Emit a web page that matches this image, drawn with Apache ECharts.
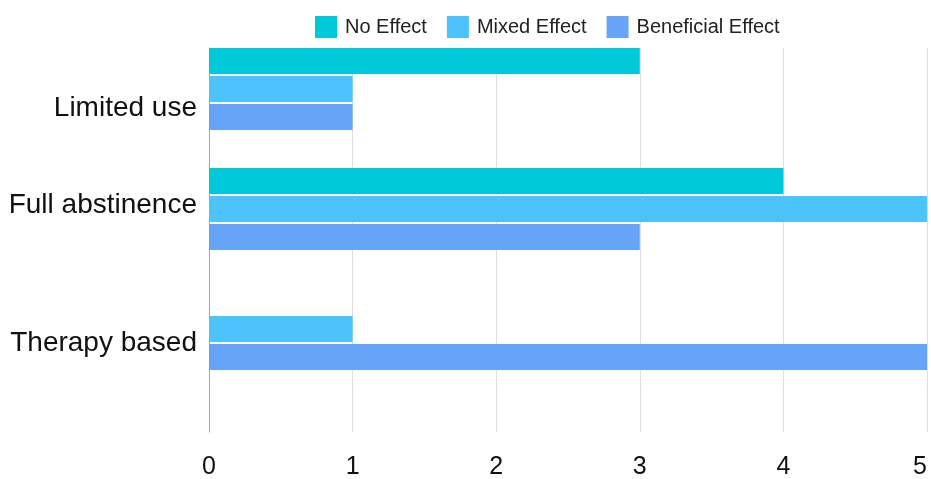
<!DOCTYPE html>
<html>
<head>
<meta charset="utf-8">
<script src="https://cdn.jsdelivr.net/npm/echarts@6/dist/echarts.min.js"></script>
<style>
html,body{margin:0;padding:0;background:#fff;}
#chart{width:931px;height:479px;}
</style>
</head>
<body>
<div id="chart"></div>
<script>
const categories = ['Limited use', 'Full abstinence', 'Therapy based'];
const seriesNames = ['No Effect', 'Mixed Effect', 'Beneficial Effect'];
const noEffect = [3, 4, 0];
const mixedEffect = [1, 5, 1];
const beneficialEffect = [1, 3, 5];
const xTicks = [0, 1, 2, 3, 4, 5];

const colors = ['#00C9DA', '#4CC3FA', '#66A4F8'];
const font = 'Liberation Sans, Arial, sans-serif';
const labelStyles = ['c0', 'c1', 'c2'];

const chart = echarts.init(document.getElementById('chart'));
const values = [noEffect, mixedEffect, beneficialEffect];
const baseLabel = { fontFamily: font, fontSize: 28, color: '#111' };
chart.setOption({
  animation: false,
  color: colors,
  legend: {
    top: 16,
    left: 315,
    padding: 0,
    itemWidth: 22,
    itemHeight: 22,
    itemGap: 20,
    icon: 'rect',
    textStyle: { fontFamily: font, fontSize: 20, color: '#222', padding: [0, 0, 0, 3] },
    data: seriesNames
  },
  grid: [
    { left: 209, right: 4, top: 48, bottom: 47, outerBoundsMode: 'none', containLabel: false },
    { left: 209, right: 4, top: 29, height: 360, outerBoundsMode: 'none', containLabel: false }
  ],
  xAxis: [
    {
      gridIndex: 0, type: 'value', min: xTicks[0], max: xTicks[xTicks.length - 1], interval: 1,
      axisLine: { show: false }, axisTick: { show: false },
      splitLine: { show: true, lineStyle: { color: '#dedede', width: 1 } },
      axisLabel: { fontFamily: font, fontSize: 25, color: '#111', margin: 23, alignMaxLabel: 'right' }
    },
    {
      gridIndex: 1, type: 'value', min: xTicks[0], max: xTicks[xTicks.length - 1],
      show: false, splitLine: { show: false }
    }
  ],
  yAxis: [
    {
      gridIndex: 0, type: 'category', data: categories,
      axisLine: { show: true, lineStyle: { color: '#a8a8a8', width: 1 } },
      axisTick: { show: false }, axisLabel: { show: false }, splitLine: { show: false }
    },
    {
      gridIndex: 1, type: 'category', data: categories, inverse: true,
      axisLine: { show: false }, axisTick: { show: false }, splitLine: { show: false },
      axisLabel: {
        fontFamily: font, fontSize: 28, color: '#111', margin: 12,
        formatter: (v, idx) => '{' + labelStyles[idx] + '|' + v + '}',
        rich: {
          c0: Object.assign({ padding: [38, 0, 0, 0] }, baseLabel),
          c1: Object.assign({ padding: [0, 0, 8, 0] }, baseLabel),
          c2: Object.assign({ padding: [28, 0, 0, 0] }, baseLabel)
        }
      }
    }
  ],
  series: seriesNames.map((name, i) => ({
    name: name,
    type: 'bar',
    xAxisIndex: 1,
    yAxisIndex: 1,
    barWidth: 26,
    barGap: '8%',
    data: values[i],
    itemStyle: { color: colors[i] }
  }))
});
</script>
</body>
</html>
